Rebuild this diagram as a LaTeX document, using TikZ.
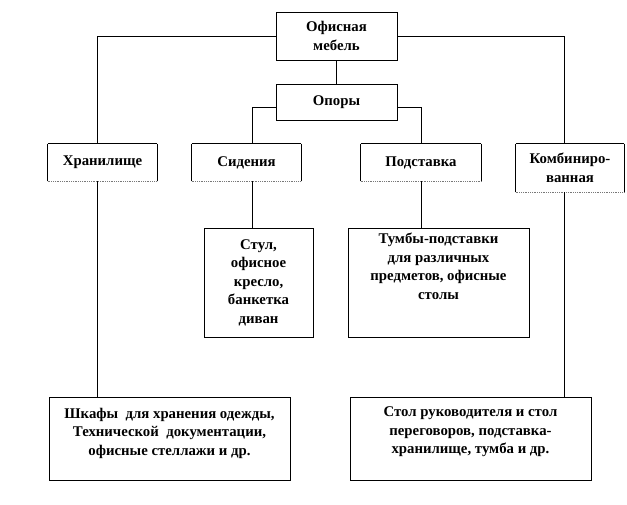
\documentclass[tikz,border=0pt]{standalone}
\usepackage{fontspec}
\setmainfont{Liberation Serif}
\usepackage{tikz}
\usepackage{xcolor}
\definecolor{edgegray}{RGB}{120,120,120}

\tikzset{
  cell/.style={draw, line width=0.8pt, align=center, inner sep=0pt,
    font=\bfseries\fontsize{14.8}{18.5}\selectfont},
  rowcell/.style={cell, draw=none, append after command={
      (\tikzlastnode.south west) edge (\tikzlastnode.north west)
      (\tikzlastnode.north west) edge (\tikzlastnode.north east)
      (\tikzlastnode.north east) edge[line width=1pt] (\tikzlastnode.south east)
      (\tikzlastnode.south west) edge[densely dotted, edgegray] (\tikzlastnode.south east)}},
  celltext/.style={align=center, inner sep=0pt, font=\bfseries\fontsize{14.8}{18.5}\selectfont}
}

\begin{document}
\begin{tikzpicture}[x=1pt, y=-1pt, line width=0.8pt]
  \useasboundingbox (0,0) rectangle (627,504);
  % upper levels
  \node[cell, minimum width=121, minimum height=48] (mebel) at (336.5,36) {Офисная\\мебель};
  \node[cell, minimum width=121, minimum height=36] (opory) at (336.5,102) {Опоры};
  % kinds
  \node[rowcell, minimum width=109, minimum height=37] (khran) at (102.5,162.5) {Хранилище};
  \node[rowcell, minimum width=109, minimum height=37] (sid) at (246.5,162.5) {Сидения};
  \node[rowcell, minimum width=120, minimum height=37] (podst) at (421,162.5) {Подставка};
  \node[rowcell, minimum width=108, minimum height=48] (komb) at (570,168) {Комбиниро-\\ванная};
  % examples
  \node[cell, minimum width=109, minimum height=109] (stul) at (258.5,282.5)
    {Стул,\\офисное\\кресло,\\банкетка\\диван};
  \node[cell, minimum width=181, minimum height=109] (tumby) at (438.5,282.5) {};
  \node[celltext, anchor=north] (tumbytxt) at ([yshift=-5]tumby.north)
    {Тумбы-подставки\\для различных\\предметов, офисные\\столы};
  \node[cell, minimum width=241, minimum height=83] (shkafy) at (169.5,438.5) {};
  \node[celltext, anchor=north] (shkafytxt) at ([yshift=-11]shkafy.north)
    {Шкафы~~для хранения одежды,\\Технической~~документации,\\офисные стеллажи и др.};
  \node[cell, minimum width=241, minimum height=83] (stol) at (470.5,438.5) {};
  \node[celltext, anchor=north] (stoltxt) at ([yshift=-10]stol.north)
    {Стол руководителя и стол\\переговоров, подставка-\\хранилище, тумба и др.};
  % connectors
  \draw (mebel.west) -| ([xshift=-5.5]khran.north);
  \draw ([xshift=-5.5]khran.south) -- ([xshift=-5.5]khran.south |- shkafy.north);
  \draw (mebel.east) -| ([xshift=-5.5]komb.north);
  \draw ([xshift=-5.5]komb.south) -- ([xshift=-5.5]komb.south |- stol.north);
  \draw (mebel) -- (opory);
  \draw ([yshift=-5]opory.west) -| ([xshift=5.5]sid.north);
  \draw ([yshift=-5]opory.east) -| (podst.north);
  \draw ([xshift=5.5]sid.south) -- ([xshift=5.5]sid.south |- stul.north);
  \draw (podst.south) -- (podst.south |- tumby.north);
\end{tikzpicture}
\end{document}
